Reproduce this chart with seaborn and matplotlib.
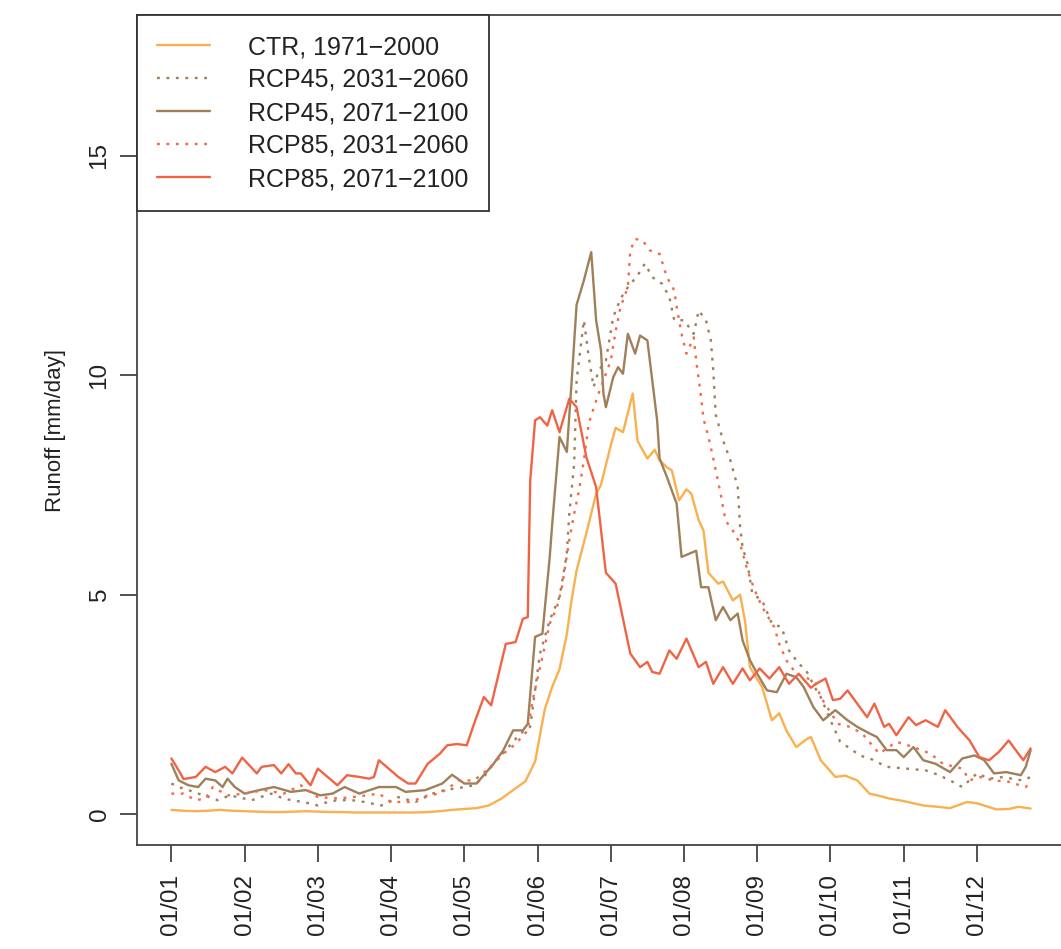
import pandas as pd
import matplotlib
matplotlib.use("Agg")
import matplotlib.pyplot as plt
import seaborn as sns

# --- Data: (day of 360-day year, runoff mm/day) ---
ctr_1971_2000 = [
    (0, 0.10), (5, 0.08), (10, 0.07), (15, 0.08), (20, 0.10), (25, 0.08), (30, 0.07),
    (35, 0.06), (40, 0.05), (45, 0.05), (50, 0.06), (55, 0.07), (60, 0.06), (65, 0.05),
    (70, 0.05), (75, 0.04), (80, 0.04), (85, 0.04), (90, 0.04), (95, 0.04), (100, 0.04),
    (105, 0.05), (110, 0.07), (115, 0.10), (120, 0.12), (125, 0.14), (130, 0.20),
    (135, 0.35), (140, 0.55), (145, 0.75), (149, 1.2), (153, 2.4), (156, 2.9), (159, 3.3),
    (162, 4.1), (164, 4.9), (166, 5.55), (170, 6.4), (174, 7.3), (176, 7.5), (180, 8.4),
    (182, 8.8), (185, 8.7), (189, 9.58), (191, 8.5), (195, 8.1), (198, 8.3), (200, 8.06),
    (203, 7.9), (205, 7.83), (208, 7.15), (211, 7.4), (213, 7.3), (216, 6.7), (218, 6.46),
    (220, 5.5), (224, 5.25), (226, 5.3), (230, 4.87), (233, 5.0), (235, 4.4), (237, 3.35),
    (242, 2.9), (246, 2.14), (249, 2.3), (252, 1.9), (256, 1.53), (260, 1.7), (262, 1.76),
    (266, 1.23), (272, 0.85), (276, 0.88), (281, 0.77), (286, 0.47), (290, 0.42),
    (294, 0.36), (300, 0.30), (308, 0.20), (314, 0.17), (319, 0.14), (326, 0.28),
    (330, 0.25), (338, 0.11), (343, 0.12), (347, 0.17), (352, 0.13),
]

rcp45_2031_2060 = [
    (0, 0.70), (3, 0.62), (7, 0.55), (11, 0.47), (15, 0.40), (19, 0.32), (24, 0.43),
    (28, 0.38), (33, 0.32), (37, 0.40), (41, 0.47), (45, 0.38), (49, 0.32), (54, 0.28),
    (60, 0.20), (64, 0.28), (68, 0.32), (74, 0.32), (79, 0.28), (86, 0.20), (90, 0.30),
    (93, 0.39), (100, 0.28), (107, 0.47), (112, 0.55), (118, 0.60), (124, 0.66),
    (128, 0.85), (133, 1.23), (137, 1.46), (143, 1.84), (147, 1.99), (151, 3.66),
    (155, 4.42), (159, 4.95), (162, 5.93), (163, 6.84), (165, 7.98), (166, 9.88),
    (168, 10.8), (169, 11.25), (171, 10.4), (173, 9.73), (175, 10.1), (178, 10.33),
    (181, 11.32), (184, 11.74), (187, 12.0), (191, 12.27), (194, 12.54), (197, 12.23),
    (201, 12.08), (204, 11.78), (206, 11.25), (210, 11.25), (214, 10.94), (216, 11.47),
    (219, 11.25), (221, 10.79), (222, 10.1), (223, 9.1), (226, 8.51), (229, 8.06),
    (232, 7.45), (233, 6.54), (234, 6.08), (236, 5.71), (238, 5.02), (242, 4.87),
    (246, 4.34), (250, 4.26), (253, 3.73), (257, 3.43), (260, 3.28), (264, 2.85),
    (266, 2.67), (270, 2.14), (274, 1.65), (279, 1.46), (282, 1.34), (287, 1.25),
    (293, 1.08), (301, 1.04), (309, 1.00), (314, 0.90), (319, 0.77), (324, 0.62),
    (330, 0.93), (335, 0.81), (341, 0.85), (345, 0.80), (349, 0.77), (352, 0.85),
]

rcp45_2071_2100 = [
    (0, 1.15), (3, 0.77), (7, 0.66), (11, 0.62), (14, 0.81), (18, 0.77), (21, 0.62),
    (23, 0.81), (26, 0.62), (30, 0.47), (36, 0.55), (42, 0.62), (49, 0.51), (55, 0.55),
    (61, 0.43), (66, 0.47), (71, 0.62), (77, 0.47), (85, 0.62), (92, 0.62), (96, 0.51),
    (104, 0.55), (111, 0.70), (115, 0.90), (120, 0.70), (125, 0.70), (132, 1.15),
    (136, 1.46), (140, 1.91), (144, 1.91), (146, 2.06), (149, 4.04), (152, 4.11),
    (155, 5.86), (156, 6.6), (159, 8.59), (162, 8.25), (164, 9.88), (166, 11.6),
    (169, 12.16), (172, 12.8), (174, 11.25), (176, 10.56), (177, 9.58), (178, 9.27),
    (181, 9.95), (183, 10.18), (185, 10.03), (187, 10.94), (190, 10.49), (192, 10.9),
    (195, 10.79), (197, 9.88), (199, 8.97), (200, 8.1), (203, 7.68), (207, 7.07),
    (209, 5.86), (212, 5.93), (215, 6.0), (217, 5.17), (220, 5.17), (223, 4.42),
    (226, 4.72), (229, 4.42), (232, 4.57), (234, 3.96), (237, 3.51), (240, 3.2),
    (244, 2.82), (248, 2.78), (252, 3.2), (256, 3.12), (259, 2.9), (263, 2.44),
    (267, 2.14), (272, 2.37), (277, 2.14), (281, 1.99), (286, 1.84), (289, 1.76),
    (293, 1.46), (297, 1.46), (300, 1.3), (304, 1.53), (308, 1.23), (313, 1.15),
    (319, 0.96), (324, 1.27), (329, 1.34), (333, 1.23), (337, 0.93), (342, 0.96),
    (348, 0.89), (350, 1.08), (352, 1.46),
]

rcp85_2031_2060 = [
    (0, 0.47), (5, 0.47), (10, 0.32), (14, 0.36), (17, 0.62), (23, 0.43), (30, 0.47),
    (38, 0.55), (46, 0.47), (53, 0.66), (60, 0.39), (68, 0.36), (76, 0.40), (85, 0.47),
    (90, 0.28), (94, 0.28), (98, 0.28), (105, 0.43), (110, 0.47), (118, 0.77),
    (124, 0.77), (130, 1.04), (136, 1.38), (141, 1.6), (146, 1.91), (148, 2.6),
    (152, 3.58), (155, 4.34), (158, 4.72), (160, 5.17), (163, 6.24), (165, 6.84),
    (167, 7.38), (169, 8.06), (171, 8.9), (173, 9.25), (175, 9.58), (177, 9.88),
    (180, 10.33), (182, 11.0), (184, 11.55), (187, 12.0), (188, 12.84), (190, 13.1),
    (193, 13.07), (196, 12.84), (200, 12.76), (203, 12.23), (206, 11.93), (207, 11.55),
    (209, 10.94), (211, 10.49), (214, 10.86), (215, 10.33), (217, 9.5), (218, 9.0),
    (220, 8.6), (222, 8.1), (225, 7.3), (227, 6.69), (230, 6.46), (233, 6.16),
    (236, 5.55), (239, 5.1), (242, 4.72), (247, 4.26), (249, 3.88), (252, 3.5),
    (256, 3.2), (260, 3.12), (264, 2.97), (266, 2.67), (273, 2.06), (278, 1.99),
    (283, 1.84), (290, 1.38), (297, 1.65), (304, 1.53), (311, 1.38), (316, 1.15),
    (324, 1.04), (327, 0.77), (331, 0.85), (337, 0.77), (343, 0.74), (350, 0.62),
    (352, 0.74),
]

rcp85_2071_2100 = [
    (0, 1.27), (3, 1.0), (5, 0.8), (10, 0.85), (14, 1.08), (18, 0.96), (22, 1.08),
    (25, 0.93), (29, 1.29), (35, 0.93), (37, 1.08), (42, 1.12), (45, 0.93), (48, 1.14),
    (51, 0.93), (53, 0.93), (57, 0.66), (60, 1.04), (64, 0.85), (68, 0.66), (72, 0.89),
    (77, 0.85), (81, 0.81), (83, 0.85), (85, 1.23), (89, 1.04), (93, 0.85), (97, 0.70),
    (100, 0.70), (105, 1.15), (110, 1.38), (113, 1.57), (117, 1.6), (121, 1.57),
    (124, 2.06), (128, 2.67), (131, 2.48), (137, 3.88), (141, 3.92), (144, 4.45),
    (146, 4.49), (147, 7.6), (149, 8.97), (151, 9.04), (154, 8.85), (156, 9.2),
    (159, 8.7), (163, 9.46), (166, 9.27), (170, 8.13), (174, 7.45), (178, 5.5),
    (182, 5.25), (188, 3.66), (192, 3.35), (195, 3.47), (197, 3.24), (200, 3.2),
    (204, 3.73), (207, 3.54), (211, 4.0), (216, 3.35), (219, 3.47), (222, 2.97),
    (226, 3.35), (230, 2.97), (234, 3.32), (237, 3.05), (241, 3.32), (245, 3.09),
    (249, 3.35), (253, 2.97), (257, 3.2), (262, 2.88), (264, 2.97), (268, 3.09),
    (271, 2.6), (274, 2.63), (277, 2.82), (282, 2.44), (285, 2.21), (288, 2.52),
    (292, 1.99), (294, 2.06), (297, 1.8), (302, 2.21), (305, 2.03), (309, 2.14),
    (314, 1.99), (317, 2.37), (322, 1.99), (327, 1.68), (331, 1.3), (335, 1.23),
    (339, 1.42), (343, 1.68), (349, 1.23), (352, 1.5),
]

series_labels = ["CTR, 1971\u22122000", "RCP45, 2031\u22122060", "RCP45, 2071\u22122100",
                 "RCP85, 2031\u22122060", "RCP85, 2071\u22122100"]
series_data = [ctr_1971_2000, rcp45_2031_2060, rcp45_2071_2100, rcp85_2031_2060, rcp85_2071_2100]
series_colors = ["#F9B04E", "#A0805A", "#A0805A", "#F26A4A", "#F06446"]

month_ticks = [0, 30, 60, 90, 120, 150, 180, 210, 240, 270, 300, 330]
month_labels = ["01/01", "01/02", "01/03", "01/04", "01/05", "01/06",
                "01/07", "01/08", "01/09", "01/10", "01/11", "01/12"]
y_ticks = [0, 5, 10, 15]

# long-form table for seaborn
rows = []
for label, pts in zip(series_labels, series_data):
    for d, v in pts:
        rows.append({"day": d, "runoff": v, "series": label})
df = pd.DataFrame(rows)

sns.set_theme(style="ticks")
plt.rcParams['font.family'] = ['Liberation Sans', 'DejaVu Sans']

fig = plt.figure(figsize=(10.61, 9.49), dpi=100)
ax = fig.add_axes([137 / 1061, (949 - 845) / 949, (1065 - 137) / 1061, (845 - 15) / 949])

dotted = (1.2, 2.8)
sns.lineplot(data=df, x="day", y="runoff", hue="series", style="series",
             hue_order=series_labels, style_order=series_labels,
             palette=dict(zip(series_labels, series_colors)),
             dashes={series_labels[0]: "", series_labels[1]: dotted, series_labels[2]: "",
                     series_labels[3]: dotted, series_labels[4]: ""},
             estimator=None, sort=False, linewidth=1.7, ax=ax)

ax.set_xlim(-14.08, 366.08)
ax.set_ylim(-0.7, 18.2)
ax.set_xticks(month_ticks)
ax.set_xticklabels(month_labels, rotation=90)
ax.set_yticks(y_ticks)
ax.set_yticklabels([str(t) for t in y_ticks], rotation=90, va="center")
ax.tick_params(axis="both", direction="out", length=12, width=1.2, colors="#333333",
               labelsize=17.5, labelcolor="#222222")
ax.tick_params(axis="x", pad=9)
ax.tick_params(axis="y", pad=7)
ax.set_xlabel("")
ax.set_ylabel("Runoff [mm/day]", fontsize=16, color="#222222", labelpad=16)
for s in ax.spines.values():
    s.set_color("#444444")
    s.set_linewidth(1.3)

handles, labels = ax.get_legend_handles_labels()
ax.legend(handles, labels, loc="upper left", borderaxespad=0, fontsize=18,
          frameon=True, fancybox=False, edgecolor="#333333", framealpha=1,
          handlelength=2.1, handletextpad=1.55, labelspacing=0.36,
          borderpad=0.8, labelcolor="#222222")
ax.get_legend().get_frame().set_linewidth(1.3)

plt.savefig("out.png", dpi=100)
